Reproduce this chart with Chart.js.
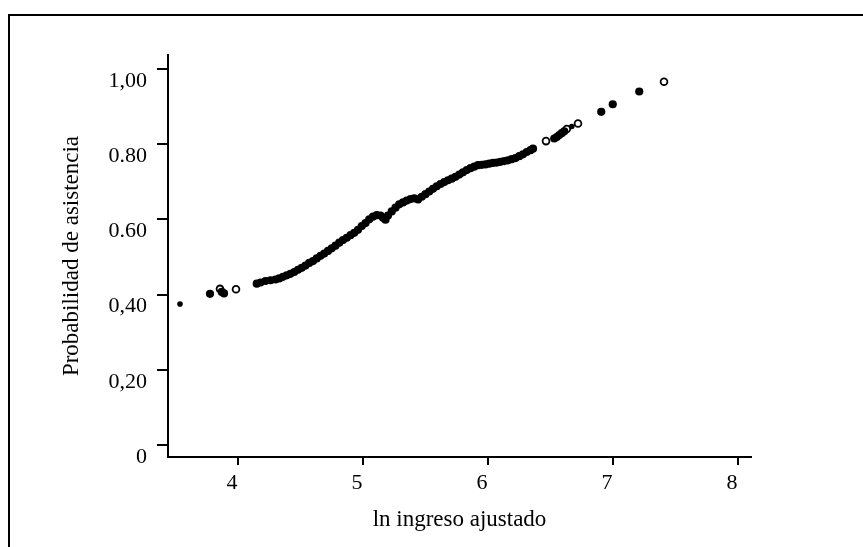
<!DOCTYPE html>
<html>
<head>
<meta charset="utf-8">
<script src="https://cdn.jsdelivr.net/npm/chart.js@4/dist/chart.umd.min.js"></script>
<style>
  body { margin: 0; background: #fff; }
  #wrap { width: 863px; height: 547px; }
</style>
</head>
<body>
<div id="wrap"><canvas id="chart" width="863" height="547"></canvas></div>
<script>
// ln ingreso ajustado vs probabilidad de asistencia
const curveX = [
  4.15, 4.18, 4.22, 4.26, 4.30, 4.33, 4.36, 4.39, 4.42, 4.45,
  4.48, 4.51, 4.54, 4.57, 4.60, 4.63, 4.66, 4.69, 4.72, 4.75,
  4.78, 4.81, 4.84, 4.87, 4.90, 4.93, 4.96, 4.99, 5.02, 5.05,
  5.08, 5.11, 5.14, 5.16, 5.18, 5.20, 5.23, 5.26, 5.29, 5.32,
  5.35, 5.38, 5.41, 5.44, 5.47, 5.50, 5.53, 5.56, 5.59, 5.62,
  5.65, 5.68, 5.71, 5.74, 5.77, 5.80, 5.83, 5.86, 5.89, 5.92,
  5.95, 5.98, 6.01, 6.04, 6.07, 6.10, 6.13, 6.16, 6.19, 6.22,
  6.25, 6.28, 6.31, 6.34, 6.36,
  6.53, 6.55, 6.57, 6.59, 6.61,
  3.776, 3.87, 3.888, 6.906, 6.998, 7.21
];
const curveY = [
  0.429, 0.432, 0.436, 0.438, 0.440, 0.443, 0.447, 0.451, 0.455, 0.460,
  0.466, 0.471, 0.477, 0.484, 0.489, 0.496, 0.503, 0.509, 0.516, 0.523,
  0.530, 0.538, 0.545, 0.551, 0.558, 0.564, 0.572, 0.582, 0.590, 0.600,
  0.607, 0.611, 0.610, 0.604, 0.599, 0.610, 0.621, 0.631, 0.640, 0.645,
  0.650, 0.654, 0.656, 0.653, 0.660, 0.667, 0.674, 0.681, 0.688, 0.694,
  0.699, 0.704, 0.708, 0.713, 0.719, 0.725, 0.731, 0.736, 0.740, 0.744,
  0.745, 0.746, 0.748, 0.750, 0.751, 0.753, 0.755, 0.757, 0.760, 0.763,
  0.768, 0.773, 0.779, 0.784, 0.788,
  0.815, 0.819, 0.824, 0.829, 0.834,
  0.402, 0.407, 0.403, 0.886, 0.906, 0.940
];

const smallX = [3.536, 6.67];
const smallY = [0.375, 0.847];

const hollowX = [3.856, 3.984, 6.464, 6.63, 6.72, 7.408];
const hollowY = [0.415, 0.414, 0.808, 0.840, 0.855, 0.966];

const xTicks = [4, 5, 6, 7, 8];
const yTicks = [0, 0.2, 0.4, 0.6, 0.8, 1.0];
const yTickLabels = ['0', '0,20', '0,40', '0.60', '0.80', '1,00'];

const toPoints = (xs, ys) => xs.map((x, i) => ({ x: x, y: ys[i] }));

const serif = 'Liberation Serif, Times New Roman, serif';

// outer frame of the original figure (runs off the right and bottom edges)
const framePlugin = {
  id: 'frame',
  afterDraw(chart) {
    const ctx = chart.ctx;
    ctx.save();
    ctx.strokeStyle = '#000';
    ctx.lineWidth = 2;
    ctx.strokeRect(9, 15, 900, 600);
    ctx.restore();
  }
};

new Chart(document.getElementById('chart'), {
  type: 'scatter',
  data: {
    datasets: [
      {
        data: toPoints(curveX, curveY),
        backgroundColor: '#000',
        borderColor: '#000',
        borderWidth: 0,
        pointRadius: 4.1
      },
      {
        data: toPoints(smallX, smallY),
        backgroundColor: '#000',
        borderColor: '#000',
        borderWidth: 0,
        pointRadius: 2.8
      },
      {
        data: toPoints(hollowX, hollowY),
        backgroundColor: '#fff',
        borderColor: '#000',
        borderWidth: 1.8,
        pointRadius: 3.4
      }
    ]
  },
  options: {
    responsive: false,
    animation: false,
    layout: { padding: { top: 55, right: 112, left: 0, bottom: 0 } },
    plugins: {
      legend: { display: false },
      tooltip: { enabled: false }
    },
    scales: {
      x: {
        type: 'linear',
        min: 3.44,
        max: 8.104,
        afterFit: s => { s.height = 90; },
        afterBuildTicks: s => { s.ticks = xTicks.map(v => ({ value: v })); },
        border: { display: true, color: '#000', width: 2 },
        grid: { drawOnChartArea: false, drawTicks: true, tickLength: 8, color: '#000', lineWidth: 2 },
        ticks: {
          color: '#000',
          font: { family: serif, size: 22 },
          padding: 5,
          labelOffset: -6,
          maxRotation: 0
        },
        title: {
          display: true,
          text: 'ln ingreso ajustado',
          color: '#000',
          font: { family: serif, size: 23 },
          padding: { top: 0, bottom: 13 }
        }
      },
      y: {
        type: 'linear',
        min: -0.032,
        max: 1.037,
        afterFit: s => { s.width = 168; },
        afterBuildTicks: s => { s.ticks = yTicks.map(v => ({ value: v })); },
        border: { display: true, color: '#000', width: 2 },
        grid: { drawOnChartArea: false, drawTicks: true, tickLength: 11, color: '#000', lineWidth: 2 },
        ticks: {
          color: '#000',
          font: { family: serif, size: 22 },
          padding: 10,
          labelOffset: 12,
          callback: (v, i) => yTickLabels[i]
        },
        title: {
          display: true,
          text: 'Probabilidad de asistencia',
          color: '#000',
          font: { family: serif, size: 23 },
          padding: { top: 58, bottom: 0 }
        }
      }
    }
  },
  plugins: [framePlugin]
});
</script>
</body>
</html>
